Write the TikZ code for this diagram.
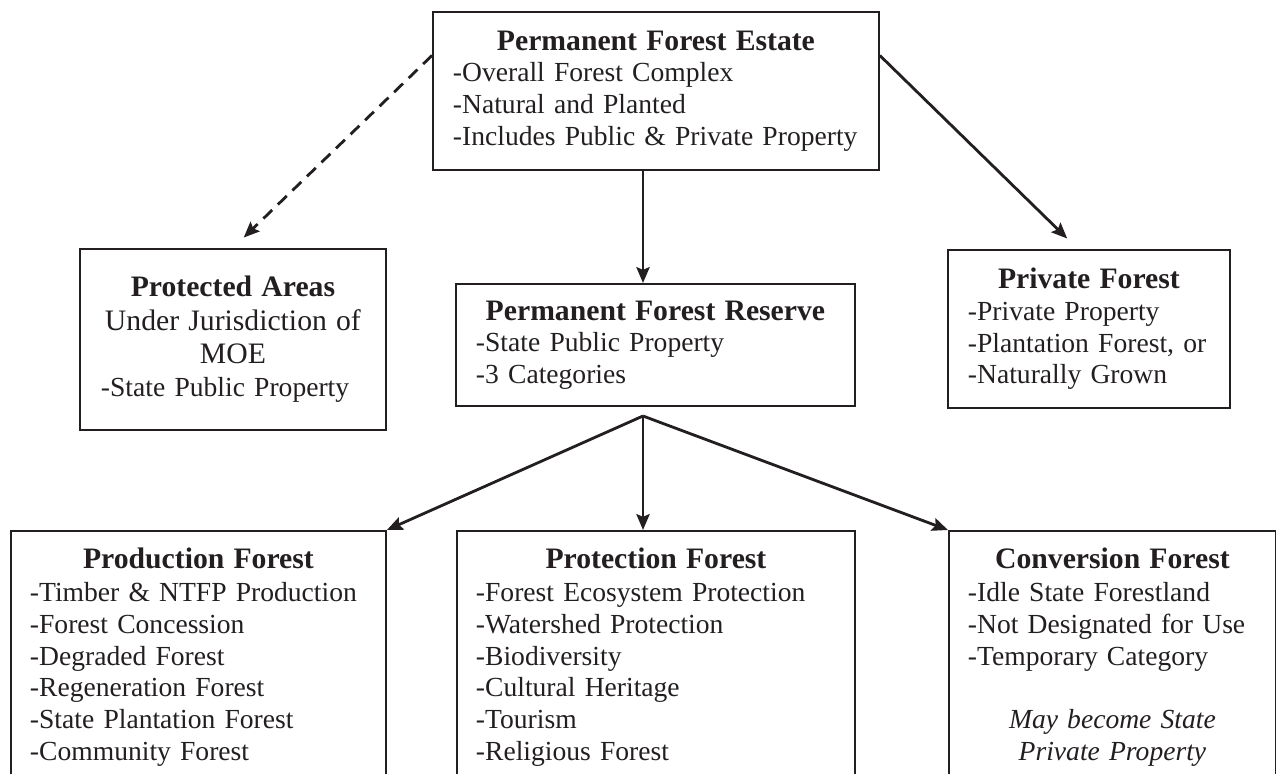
\documentclass[tikz,border=0pt]{standalone}
\usepackage{fontspec}
\setmainfont{Liberation Serif}
\usetikzlibrary{arrows.meta}

\definecolor{ink}{RGB}{35,31,32}
\newcommand{\boxhead}[1]{\makebox[\linewidth][c]{\fontsize{16.9}{18}\selectfont\bfseries #1}}
\newcommand{\boxmid}[1]{\makebox[\linewidth][c]{\fontsize{16.9}{18}\selectfont #1}}

\tikzset{
  catbox/.style={draw=ink, line width=1.1pt, text=ink, align=left, inner xsep=0.4cm,
    anchor=north west, font=\fontsize{15.7}{18}\selectfont},
  lowbox/.style={catbox, inner xsep=0.38cm, inner ysep=0.34cm},
  link/.style={draw=ink, line width=1.6pt, -{Stealth[length=9pt,width=7.5pt,inset=1.5pt]}},
}

\begin{document}
\begin{tikzpicture}[x=0.02cm, y=-0.02cm]
 \useasboundingbox (0,0) rectangle (1276,774);
 \clip (0,0) rectangle (1276,774);

 \node[catbox, minimum width=8.92cm, minimum height=3.16cm, text width=8.12cm] (estate) at (432,11)
  {\boxhead{Permanent Forest Estate}\\ -Overall Forest Complex\\ -Natural and Planted\\ -Includes Public \& Private Property};
 \node[catbox, inner xsep=0.42cm, minimum width=6.12cm, minimum height=3.62cm, text width=5.28cm] (protected) at (79,248)
  {\boxhead{Protected Areas}\\[1pt] \boxmid{Under Jurisdiction of}\\[1pt] \boxmid{MOE}\\[1pt] -State Public Property};
 \node[catbox, minimum width=7.98cm, minimum height=2.44cm, text width=7.18cm] (reserve) at (455,283)
  {\boxhead{Permanent Forest Reserve}\\ -State Public Property\\ -3 Categories};
 \node[catbox, minimum width=5.64cm, minimum height=3.16cm, text width=4.84cm] (private) at (947,249)
  {\boxhead{Private Forest}\\ -Private Property\\ -Plantation Forest, or\\ -Naturally Grown};

 \node[lowbox, minimum width=7.5cm, text width=6.74cm] (production) at (10,530)
  {\boxhead{Production Forest}\\[1pt] -Timber \& NTFP Production\\ -Forest Concession\\ -Degraded Forest\\
   -Regeneration Forest\\ -State Plantation Forest\\ -Community Forest};
 \node[lowbox, minimum width=7.96cm, text width=7.2cm] (protection) at (456,530)
  {\boxhead{Protection Forest}\\[1pt] -Forest Ecosystem Protection\\ -Watershed Protection\\ -Biodiversity\\
   -Cultural Heritage\\ -Tourism\\ -Religious Forest};
 \node[lowbox, minimum width=6.54cm, text width=5.78cm] (conversion) at (948,530)
  {\boxhead{Conversion Forest}\\[1pt] -Idle State Forestland\\ -Not Designated for Use\\ -Temporary Category\\[18pt]
   \makebox[\linewidth][c]{\itshape May become State}\\ \makebox[\linewidth][c]{\itshape Private Property}};

 \coordinate (fork) at (643,416);

 \draw[link, dash pattern=on 7pt off 4.5pt, shorten >=0.3cm] (estate.171) -- (protected.north);
 \draw[link, shorten >=0.3cm] (estate.9) -- ([xshift=-0.22cm]private.north);
 \draw[link] (estate.south -| fork) -- (reserve.north -| fork);
 \draw[link] (fork) -- (production.north east);
 \draw[link] (fork) -- (protection.north -| fork);
 \draw[link] (fork) -- (conversion.north west);
\end{tikzpicture}
\end{document}
